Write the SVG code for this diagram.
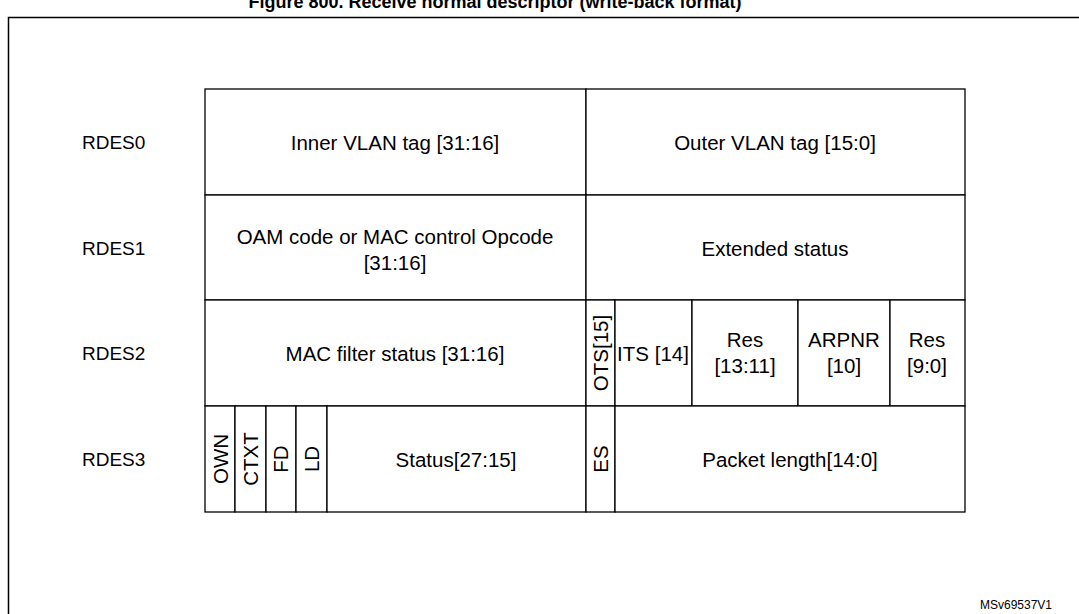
<svg xmlns="http://www.w3.org/2000/svg" width="1079" height="614" viewBox="0 0 1079 614">
<style>
text{font-family:"Liberation Sans",Arial,sans-serif;font-size:20.5px;fill:#000}
.l{font-size:19px}
.c{text-anchor:middle}
.cell{fill:#fff;stroke:#000;stroke-width:1.3}
</style>
<rect width="1079" height="614" fill="#fff"/>
<text x="495" y="8" class="c" style="font-weight:bold;font-size:18px">Figure 800. Receive normal descriptor (write-back format)</text>
<rect x="8.5" y="17.5" width="1090" height="620" fill="none" stroke="#000" stroke-width="1.5"/>
<g id="labels">
<text class="l" x="82" y="149">RDES0</text>
<text class="l" x="82" y="255">RDES1</text>
<text class="l" x="82" y="360">RDES2</text>
<text class="l" x="82" y="466">RDES3</text>
</g>
<g id="table">
<rect class="cell" x="205" y="89" width="381" height="106"/>
<rect class="cell" x="586" y="89" width="379" height="106"/>
<rect class="cell" x="205" y="195" width="381" height="105"/>
<rect class="cell" x="586" y="195" width="379" height="105"/>
<rect class="cell" x="205" y="300" width="381" height="106"/>
<rect class="cell" x="586" y="300" width="29" height="106"/>
<rect class="cell" x="615" y="300" width="77" height="106"/>
<rect class="cell" x="692" y="300" width="106" height="106"/>
<rect class="cell" x="798" y="300" width="92" height="106"/>
<rect class="cell" x="890" y="300" width="75" height="106"/>
<rect class="cell" x="205" y="406" width="30" height="106"/>
<rect class="cell" x="235" y="406" width="31" height="106"/>
<rect class="cell" x="266" y="406" width="30" height="106"/>
<rect class="cell" x="296" y="406" width="31" height="106"/>
<rect class="cell" x="327" y="406" width="259" height="106"/>
<rect class="cell" x="586" y="406" width="29" height="106"/>
<rect class="cell" x="615" y="406" width="350" height="106"/>
</g>
<g id="texts">
<text class="c" x="395" y="150">Inner VLAN tag [31:16]</text>
<text class="c" x="775" y="150">Outer VLAN tag [15:0]</text>
<text class="c" x="395" y="244">OAM code or MAC control Opcode</text>
<text class="c" x="395" y="270">[31:16]</text>
<text class="c" x="775" y="256">Extended status</text>
<text class="c" x="395" y="361">MAC filter status [31:16]</text>
<text class="c" transform="translate(608,353) rotate(-90)">OTS[15]</text>
<text class="c" x="653" y="361">ITS [14]</text>
<text class="c" x="745" y="347">Res</text>
<text class="c" x="745" y="373">[13:11]</text>
<text class="c" x="844" y="347">ARPNR</text>
<text class="c" x="844" y="373">[10]</text>
<text class="c" x="927" y="347">Res</text>
<text class="c" x="927" y="373">[9:0]</text>
<text class="c" transform="translate(228,459) rotate(-90)">OWN</text>
<text class="c" transform="translate(258,459) rotate(-90)">CTXT</text>
<text class="c" transform="translate(288,459) rotate(-90)">FD</text>
<text class="c" transform="translate(319,459) rotate(-90)">LD</text>
<text class="c" x="456" y="467">Status[27:15]</text>
<text class="c" transform="translate(608,459) rotate(-90)">ES</text>
<text class="c" x="790" y="467">Packet length[14:0]</text>
</g>
<text x="980" y="609" style="font-size:12px">MSv69537V1</text>
</svg>
